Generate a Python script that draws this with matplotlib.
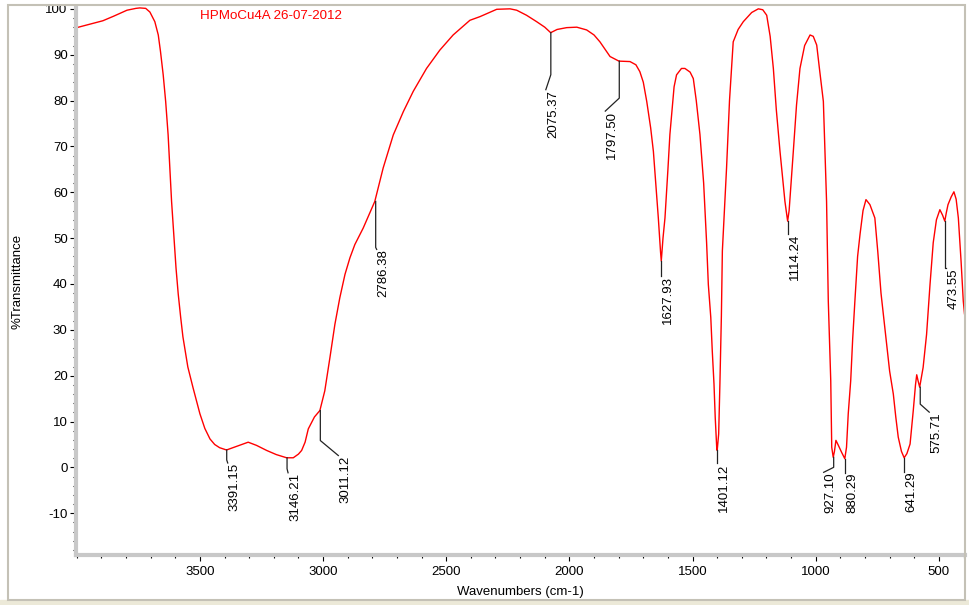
import matplotlib
matplotlib.use("Agg")
import matplotlib.pyplot as plt
from matplotlib.lines import Line2D
from matplotlib.patches import Rectangle
from matplotlib.transforms import IdentityTransform
from matplotlib.ticker import MultipleLocator

plt.rcParams["font.family"] = ["Liberation Sans", "DejaVu Sans"]
plt.rcParams["axes.unicode_minus"] = False

# spectrum (wavenumber cm-1, %T)
wavenumber = [4000, 3950, 3894, 3850, 3796, 3760, 3744, 3720, 3703, 3683,
              3669, 3660, 3649, 3639, 3629, 3622, 3615, 3606, 3597, 3588,
              3578, 3569, 3549, 3528, 3500, 3480, 3459, 3440, 3420, 3392,
              3350, 3304, 3270, 3229, 3190, 3148, 3121, 3100, 3087, 3073,
              3060, 3035, 3013, 2993, 2972, 2952, 2932, 2911, 2891, 2871,
              2837, 2790, 2756, 2715, 2674, 2634, 2580, 2526, 2472, 2404,
              2363, 2295, 2241, 2214, 2174, 2133, 2100, 2076, 2050, 2011,
              1970, 1930, 1900, 1876, 1835, 1799, 1754, 1730, 1714, 1700,
              1686, 1670, 1659, 1639, 1630, 1627, 1620, 1612, 1600, 1592,
              1575, 1565, 1545, 1531, 1510, 1497, 1485, 1470, 1455, 1443,
              1436, 1426, 1420, 1413, 1408, 1402, 1400, 1394, 1389, 1383,
              1379, 1362, 1350, 1335, 1315, 1294, 1260, 1233, 1215, 1199,
              1185, 1172, 1160, 1145, 1125, 1114, 1108, 1100, 1091, 1078,
              1064, 1045, 1023, 1010, 996, 985, 969, 956, 949, 939,
              935, 929, 924, 918, 908, 895, 882, 875, 868, 864,
              858, 850, 841, 830, 820, 808, 796, 780, 760, 748,
              735, 712, 700, 685, 675, 665, 652, 641, 630, 617,
              604, 595, 590, 585, 578, 570, 564, 550, 536, 523,
              510, 496, 485, 476, 470, 463, 450, 439, 430, 421,
              410, 401, 396]
transmittance = [95.9, 96.6, 97.4, 98.4, 99.7, 100.1, 100.2, 100.1, 99.3, 97.2,
                 94.3, 90.7, 85.6, 79.8, 72.5, 65.3, 58.0, 50.8, 43.5, 37.8,
                 32.7, 28.5, 21.9, 17.4, 11.7, 8.5, 6.2, 5.0, 4.3, 3.8,
                 4.6, 5.5, 4.8, 3.7, 2.8, 2.1, 2.1, 2.9, 3.7, 5.5,
                 8.4, 11.0, 12.4, 16.7, 24.0, 31.2, 37.0, 42.1, 45.7, 48.6,
                 52.2, 58.0, 65.3, 72.5, 77.6, 82.0, 87.0, 91.0, 94.3, 97.5,
                 98.3, 99.9, 100.0, 99.7, 98.6, 97.2, 96.0, 94.8, 95.5, 95.9,
                 96.0, 95.4, 94.3, 92.8, 89.6, 88.6, 88.5, 87.8, 86.3, 84.0,
                 79.8, 74.0, 68.9, 54.4, 47.0, 45.0, 50.0, 54.4, 65.0, 72.6,
                 83.0, 85.6, 87.0, 87.0, 86.2, 84.8, 80.0, 72.6, 62.0, 49.0,
                 39.9, 32.7, 25.4, 18.2, 10.9, 4.4, 3.7, 7.3, 18.2, 33.0,
                 47.2, 65.3, 80.0, 92.8, 95.5, 97.2, 99.2, 100.0, 99.8, 98.6,
                 94.0, 87.0, 78.0, 68.9, 58.0, 53.7, 56.0, 62.0, 68.9, 79.0,
                 87.0, 92.0, 94.3, 94.0, 92.1, 87.0, 79.8, 58.0, 36.3, 18.9,
                 4.4, 2.2, 3.5, 5.9, 4.8, 3.3, 1.9, 4.4, 11.7, 14.6,
                 18.9, 28.0, 36.3, 46.0, 50.9, 56.0, 58.4, 57.3, 54.4, 47.0,
                 38.0, 26.9, 21.0, 16.0, 11.0, 6.6, 3.5, 2.1, 3.0, 5.1,
                 12.4, 18.0, 20.2, 19.0, 17.5, 20.0, 21.8, 29.0, 39.9, 49.0,
                 54.0, 56.2, 55.0, 53.7, 55.5, 57.3, 59.0, 60.1, 58.5, 54.4,
                 45.0, 36.3, 33.5]

# labelled peaks
peak_labels = ["3391.15", "3146.21", "3011.12", "2786.38", "2075.37", "1797.50",
               "1627.93", "1401.12", "1114.24", "927.10", "880.29", "641.29",
               "575.71", "473.55"]
peak_t = [3.8, 2.1, 12.4, 58.0, 94.8, 88.6, 45.0, 3.7, 53.7, 2.2, 1.9, 2.1,
          17.5, 53.7]

# leader line shape in pixels: vertical drop, then diagonal (dx, dy)
leaders = [(10, 1, 3), (11, 1, 4), (30, 18, 15), (46, 1, 2), (42, -5, 15),
           (37, -14, 13), (15, 0, 0), (13, 0, 0), (13, 0, 0), (10, -10, 5),
           (14, 0, 0), (14, 0, 0), (17, 9, 8), (47, 1, 0)]

fig = plt.figure(figsize=(9.69, 6.05), dpi=100)
ax = fig.add_axes([76 / 969, 1 - 555 / 605, 889 / 969, 548 / 605])

# window frame
fig.patches.append(Rectangle((0, 0), 1, 5 / 605, transform=fig.transFigure,
                             color="#ece9d8", zorder=0))
fig.patches.append(Rectangle((8 / 969, 5 / 605), 957 / 969, 595 / 605,
                             transform=fig.transFigure, fill=False,
                             edgecolor="#c4c1b6", lw=1.5, zorder=0))

ax.plot(wavenumber, transmittance, color="#ff0000", lw=1.0)

ax.set_xlim(4003, 394)
ax.set_ylim(-19.1, 100.4)
ax.set_xticks([3500, 3000, 2500, 2000, 1500, 1000, 500])
ax.xaxis.set_minor_locator(MultipleLocator(100))
ax.set_yticks(range(-10, 101, 10))
ax.yaxis.set_minor_locator(MultipleLocator(2))

for s in ["top", "right"]:
    ax.spines[s].set_visible(False)
for s in ["left", "bottom"]:
    ax.spines[s].set_color("#c8c8c8")
    ax.spines[s].set_linewidth(3)
ax.tick_params(which="major", direction="out", length=4, width=0.8,
               color="black", labelsize=9.5, pad=2)
ax.tick_params(which="minor", direction="out", length=2.5, width=0.8,
               color="black")
ax.tick_params(axis="x", pad=4)

ax.set_xlabel("Wavenumbers (cm-1)", fontsize=9.5)
ax.xaxis.set_label_coords(0.5, -0.056)
ax.set_ylabel("%Transmittance", fontsize=9.5)
ax.yaxis.set_label_coords(-0.0585, 0.5)

ax.text(0.1395, 0.983, "HPMoCu4A 26-07-2012", transform=ax.transAxes,
        color="#ff0000", fontsize=9.6, va="center", ha="left")

fig.canvas.draw()
for lab, t, (d1, dx, d2) in zip(peak_labels, peak_t, leaders):
    px, py = ax.transData.transform((float(lab), t))
    xs = [px, px, px + dx]
    ys = [py, py - d1, py - d1 - d2]
    fig.lines.append(Line2D(xs, ys, transform=IdentityTransform(),
                            color="#222222", lw=0.9))
    fig.text(xs[-1] + 1, ys[-1], lab, transform=IdentityTransform(),
             rotation=90, ha="left", va="top", fontsize=9.5)

fig.savefig("out.png", dpi=100)
